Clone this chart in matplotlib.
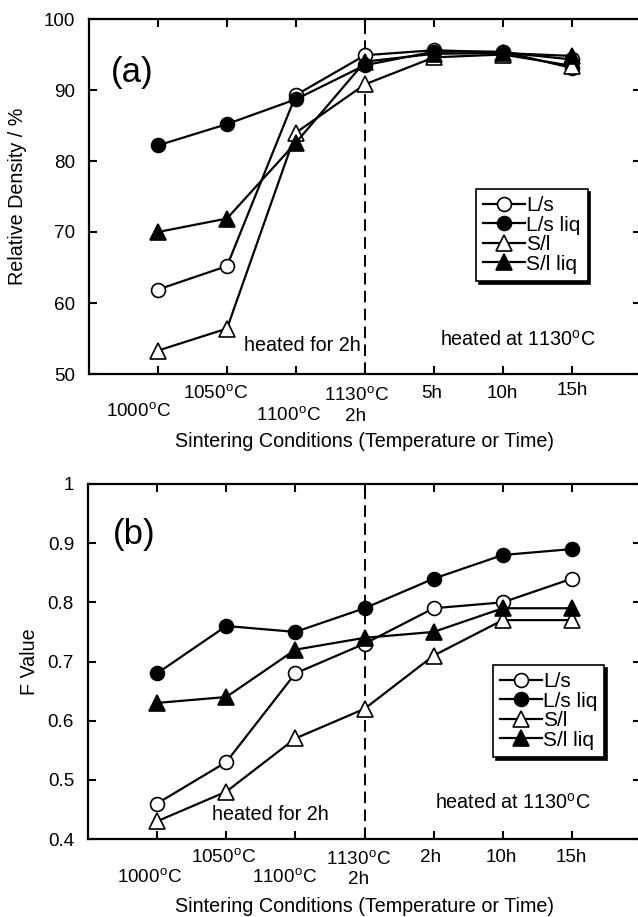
import numpy as np
import matplotlib
matplotlib.use("Agg")
import matplotlib.pyplot as plt
import matplotlib.transforms as mtransforms

plt.rcParams['font.family'] = ['Liberation Sans', 'DejaVu Sans']
plt.rcParams['mathtext.fontset'] = 'custom'
plt.rcParams['mathtext.rm'] = 'Liberation Sans'
plt.rcParams['mathtext.it'] = 'Liberation Sans'

# ---------------- data ----------------
series_names = ["L/s", "L/s liq", "S/l", "S/l liq"]

labels_a = ["1000$^{\\rm o}$C", "1050$^{\\rm o}$C", "1100$^{\\rm o}$C",
            "1130$^{\\rm o}$C\n2h", "5h", "10h", "15h"]
labels_b = ["1000$^{\\rm o}$C", "1050$^{\\rm o}$C", "1100$^{\\rm o}$C",
            "1130$^{\\rm o}$C\n2h", "2h", "10h", "15h"]

dens_Ls = [61.9, 65.2, 89.3, 94.9, 95.6, 95.3, 94.3]
dens_Ls_liq = [82.2, 85.2, 88.7, 93.5, 95.4, 95.4, 93.1]
dens_Sl = [53.3, 56.4, 84.0, 90.8, 94.6, 95.0, 93.4]
dens_Sl_liq = [70.0, 71.9, 82.6, 94.0, 95.1, 95.2, 94.8]

f_Ls = [0.46, 0.53, 0.68, 0.73, 0.79, 0.80, 0.84]
f_Ls_liq = [0.68, 0.76, 0.75, 0.79, 0.84, 0.88, 0.89]
f_Sl = [0.43, 0.48, 0.57, 0.62, 0.71, 0.77, 0.77]
f_Sl_liq = [0.63, 0.64, 0.72, 0.74, 0.75, 0.79, 0.79]

yticks_a = [50, 60, 70, 80, 90, 100]
yticklabels_a = ["50", "60", "70", "80", "90", "100"]
yticks_b = [0.4, 0.5, 0.6, 0.7, 0.8, 0.9, 1.0]
yticklabels_b = ["0.4", "0.5", "0.6", "0.7", "0.8", "0.9", "1"]

# ---------------- layout / style ----------------
W, H = 638, 917
fig = plt.figure(figsize=(W / 100, H / 100), dpi=100)

styles = [
    dict(marker='o', mfc='white', ms=10),
    dict(marker='o', mfc='black', ms=10),
    dict(marker='^', mfc='white', ms=11),
    dict(marker='^', mfc='black', ms=11),
]

FS_TICK = 13.6
FS = 14.2
FS_LEG = 15


def px_ax(left, top, right, bottom):
    return fig.add_axes([left / W, 1 - bottom / H, (right - left) / W, (bottom - top) / H])


def make_panel(ax, data, labels, yticks, yticklabels, ylabel, letter, letter_pos,
               label_dx, label_dy, ann1, ann2, leg_anchor, ylabel_x):
    x = np.arange(1, len(labels) + 1)
    for name, vals, st in zip(series_names, data, styles):
        ax.plot(x, vals, color='black', lw=1.6, mec='black', mew=1.2, label=name,
                clip_on=False, **st)
    ax.axvline(4, color='black', lw=1.4, ls=(0, (6, 3.2)), zorder=0)
    ax.set_xlim(0, 8)
    ax.set_ylim(yticks[0], yticks[-1])
    ax.set_yticks(yticks)
    ax.set_yticklabels(yticklabels, fontsize=FS_TICK)
    ax.set_xticks(x)
    ax.set_xticklabels([''] * len(x))
    ax.tick_params(direction='in', top=True, right=True, length=6, width=1.5, pad=10)
    for s in ax.spines.values():
        s.set_linewidth(1.6)
    # x tick labels as text (two staggered rows)
    base = mtransforms.blended_transform_factory(ax.transData, ax.transAxes)
    for xi, lab, dx, dy in zip(x, labels, label_dx, label_dy):
        tr = mtransforms.offset_copy(base, fig=fig, x=dx, y=-dy, units='dots')
        ax.text(xi, 0, lab, transform=tr, ha='center', va='center', fontsize=FS_TICK,
                linespacing=1.3)
    ax.set_ylabel(ylabel, fontsize=FS)
    ax.yaxis.set_label_coords(ylabel_x, 0.5)
    ax.set_xlabel("Sintering Conditions (Temperature or Time)", fontsize=FS)
    ax.xaxis.set_label_coords(0.5, -0.163)
    ax.text(letter_pos[0], letter_pos[1], letter, fontsize=25, ha='left', va='center')
    ax.text(ann1[0], ann1[1], "heated for 2h", fontsize=FS, ha='center', va='center')
    ax.text(ann2[0], ann2[1], "heated at 1130$^{\\rm o}$C", fontsize=FS,
            ha='center', va='center')
    leg = ax.legend(loc='upper left', bbox_to_anchor=leg_anchor, borderaxespad=0,
                    fontsize=FS_LEG, frameon=True, fancybox=False,
                    shadow={'color': 'black', 'alpha': 1},
                    handlelength=2.0, handletextpad=0.05, labelspacing=0.02,
                    borderpad=0.35, framealpha=1)
    leg.get_frame().set_edgecolor('black')
    leg.get_frame().set_linewidth(1.2)


ax1 = px_ax(89, 19, 641, 374)
make_panel(ax1, [dens_Ls, dens_Ls_liq, dens_Sl, dens_Sl_liq], labels_a,
           yticks_a, yticklabels_a, "Relative Density / %", "(a)", (0.32, 92.4),
           label_dx=[-20, -12, -8, -9, -2, -1, 0],
           label_dy=[37, 19, 41, 31.5, 19, 19, 16],
           ann1=(3.09, 54.0), ann2=(6.21, 54.8), leg_anchor=(0.701, 0.521),
           ylabel_x=-0.112)

ax2 = px_ax(88, 484, 641, 839)
make_panel(ax2, [f_Ls, f_Ls_liq, f_Sl, f_Sl_liq], labels_b,
           yticks_b, yticklabels_b, "F Value", "(b)", (0.36, 0.915),
           label_dx=[-8, -3, -11, -6, -3, -1, -1],
           label_dy=[38, 18, 38, 30, 18, 18, 18],
           ann1=(2.645, 0.442), ann2=(6.14, 0.462), leg_anchor=(0.732, 0.490),
           ylabel_x=-0.089)

fig.savefig("out.png", dpi=100)
